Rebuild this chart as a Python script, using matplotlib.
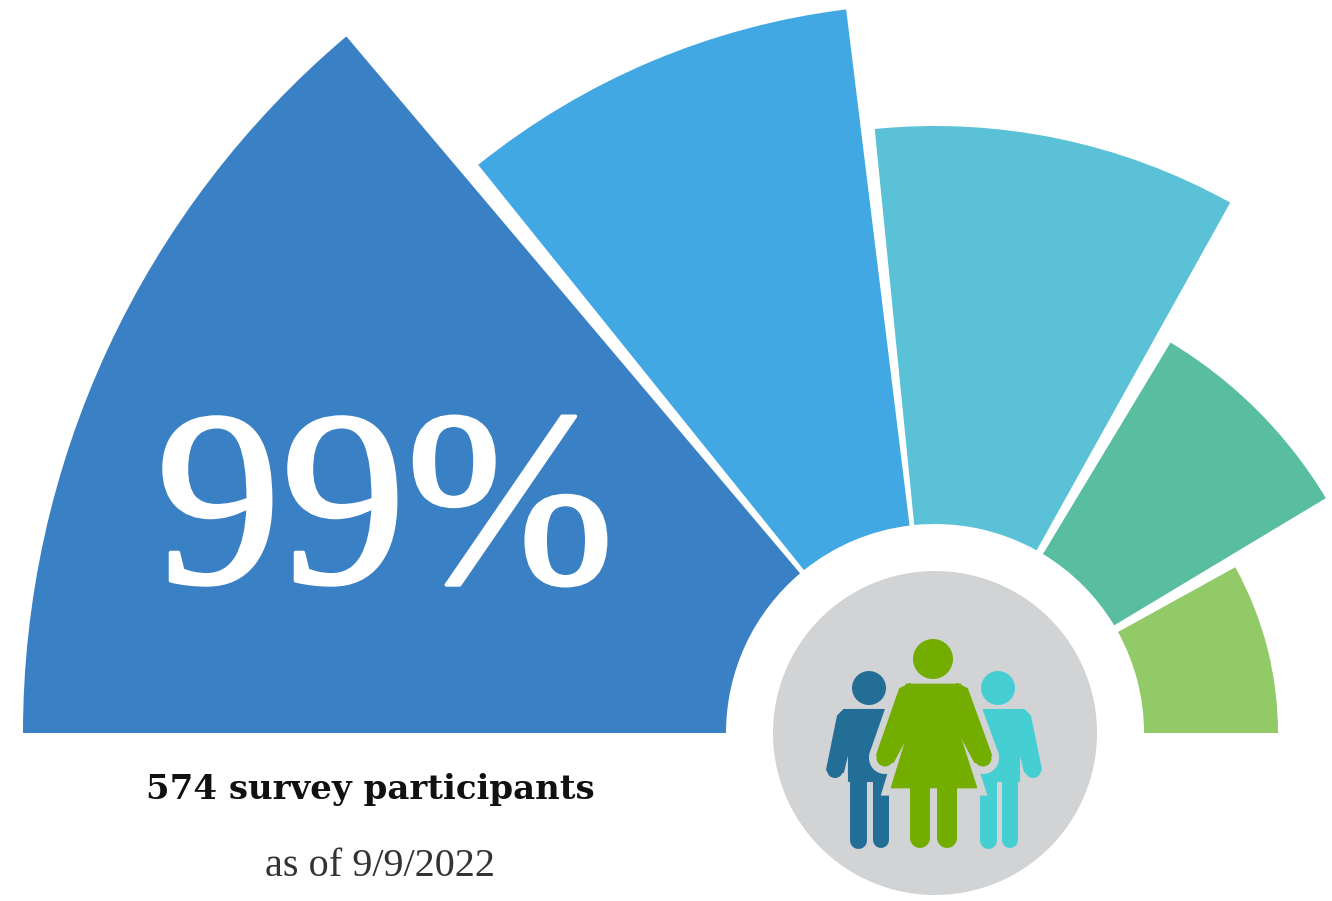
import matplotlib
matplotlib.use('Agg')
import matplotlib.pyplot as plt
import matplotlib.patheffects as pe
from matplotlib.patches import Wedge, Circle, Polygon

# wedge data (angles in degrees, radius in px)
wedge_start = [130.2, 97.0, 60.9, 31.0, 0.0]
wedge_end = [180.0, 128.8, 95.7, 58.9, 28.9]
wedge_radius = [912, 729, 607, 456, 343]
wedge_colors = ['#3980C5', '#41A8E4', '#5BC1D6', '#58BE9F', '#91CA66']
inner_radius = 209

headline = '99%'
participants = '574 survey participants'
as_of = 'as of 9/9/2022'

W, H = 1332, 901
cx, cy = 935, 733
GREY = '#D1D3D5'
BLUE = '#236E96'
TEAL = '#45CFD3'
GREEN = '#72AD00'

fig = plt.figure(figsize=(W / 100, H / 100), dpi=100)
ax = fig.add_axes([0, 0, 1, 1])
ax.set_xlim(0, W)
ax.set_ylim(H, 0)  # y runs downwards like the image
ax.axis('off')


def leg(x0, x1, y0, y1, col, z):
    # width in px -> points, round caps give the rounded foot
    w = x1 - x0
    ax.plot([(x0 + x1) / 2] * 2, [y0, y1 - w / 2], color=col, lw=w * 0.72,
            solid_capstyle='round', zorder=z)


def blob(pts, col, z, lw=1.5, join='round'):
    ax.add_patch(Polygon(pts, closed=True, fc=col, ec=col, lw=lw, joinstyle=join, zorder=z))


def disc(x, y, r, col, z):
    ax.add_patch(Circle((x, y), r, fc=col, ec='none', zorder=z))


for a, b, r, c in zip(wedge_start, wedge_end, wedge_radius, wedge_colors):
    # image y runs down, so the angles get flipped
    ax.add_patch(Wedge((cx, cy), r, -b, -a, width=r - inner_radius, fc=c, ec='none'))

disc(cx, cy, 162, GREY, 2)

man_body = [(844, 710), (892, 710), (892, 781), (849, 781), (849, 747), (843, 772), (827, 770), (838, 716)]
hand_x = 835

# left man
disc(869, 688, 17, BLUE, 3)
blob(man_body, BLUE, 3)
disc(hand_x, 770, 8, BLUE, 3)
leg(849, 866, 775, 848, BLUE, 3)
leg(873, 889, 775, 848, BLUE, 3)

# right man is the mirror of the left one
disc(998, 688, 17, TEAL, 3)
blob([(1868 - x, y) for x, y in man_body], TEAL, 3)
disc(1868 - hand_x, 770, 8, TEAL, 3)
leg(979, 996, 775, 848, TEAL, 3)
leg(1002, 1018, 775, 848, TEAL, 3)

# woman in front, the grey halo cuts into the two men
arm_l = [(910, 684), (900, 689), (877, 755), (893, 762), (910, 730)]
arm_r = [(957, 684), (967, 689), (991, 755), (975, 762), (958, 730)]
dress = [(906, 684), (961, 684), (959, 732), (977, 788), (891, 788), (908, 732)]
for part in (arm_l, arm_r):
    blob(part, GREY, 4, lw=11)
disc(885, 758, 16, GREY, 4)
disc(983, 758, 16, GREY, 4)
blob(dress, GREY, 4, lw=11, join='miter')

disc(933, 659, 20, GREEN, 5)
blob(arm_l, GREEN, 5)
blob(arm_r, GREEN, 5)
disc(885, 758, 8.5, GREEN, 5)
disc(983, 758, 8.5, GREEN, 5)
blob(dress, GREEN, 5, lw=0.5, join='miter')
leg(910, 930, 775, 848, GREEN, 5)
leg(937, 957, 775, 848, GREEN, 5)

ax.text(385, 522, headline, color='white', fontsize=180, family='Liberation Serif', ha='center', va='center',
        path_effects=[pe.withStroke(linewidth=2.5, foreground='white')])
ax.text(370, 789, participants, color='#111111', fontsize=24.5, family='DejaVu Serif', weight='bold', ha='center', va='center')
ax.text(380, 866, as_of, color='#333333', fontsize=29, family='Liberation Serif', ha='center', va='center')

fig.savefig('out.png', dpi=100)
